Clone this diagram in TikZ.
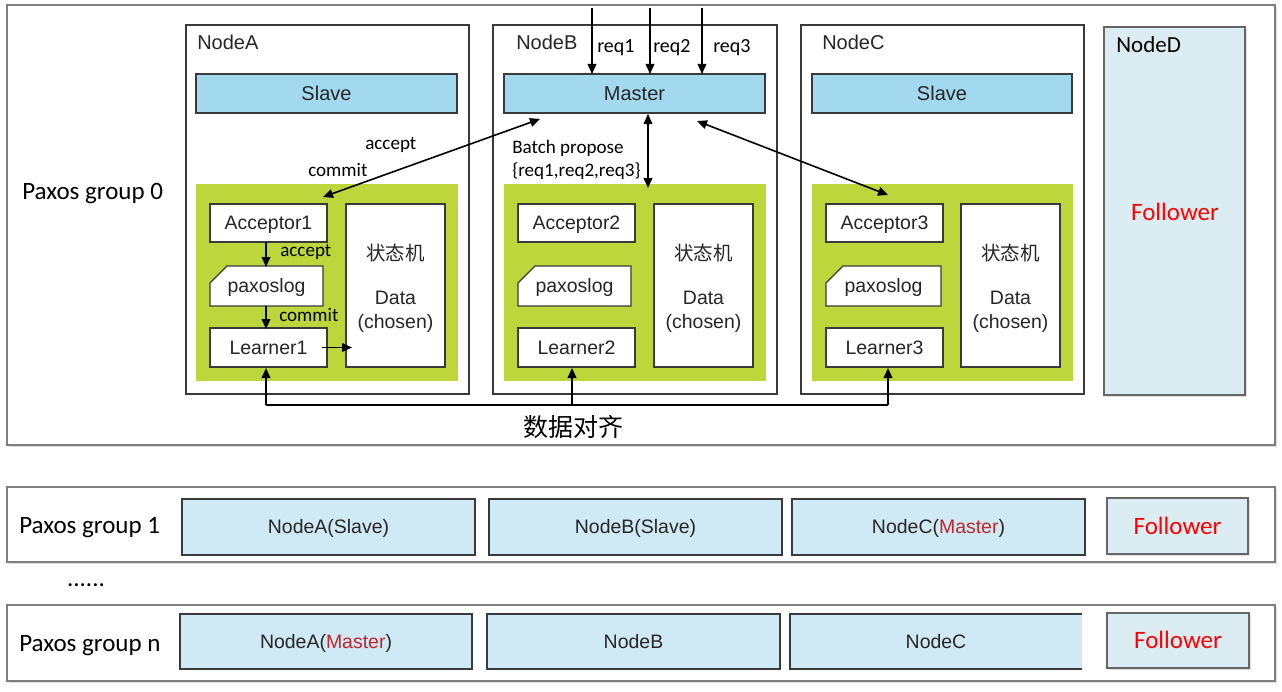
\documentclass[tikz,border=0pt]{standalone}
\usepackage{fontspec}
\setmainfont{Liberation Sans}
\newfontfamily\calib{Carlito}
\newfontfamily\cjk{Noto Sans CJK SC}
\usetikzlibrary{arrows.meta,shadows,calc}
\definecolor{grpline}{HTML}{7F7F7F}
\definecolor{boxline}{HTML}{3A3A3A}
\definecolor{barblue}{HTML}{A3D9EF}
\definecolor{lightblue}{HTML}{CFE9F5}
\definecolor{follblue}{HTML}{DBEDF3}
\definecolor{pgreen}{HTML}{BDD63B}
\definecolor{txt}{HTML}{262626}
\definecolor{mred}{HTML}{C0272D}
\definecolor{fred}{HTML}{FF0000}
\newcommand\pxbox[7]{\node[#1, inner sep=0pt, outer sep=0pt, minimum width={0.75pt*(#5-#3)}, minimum height={0.75pt*(#6-#4)}] (#2) at ({(#3+#5)/2},{(#4+#6)/2}) {#7};}
\newcommand\plog[4]{\draw[boxline, line width=1pt, fill=white] (#1,{#2+17}) -- ({#1+17},#2) -- (#3,#2) -- (#3,#4) -- (#1,#4) -- cycle;}
\begin{document}
\begin{tikzpicture}[x=0.75pt,y=-0.75pt,
  grp/.style={draw=grpline, line width=1.6pt, fill=white, drop shadow={shadow xshift=1.2pt, shadow yshift=-1.2pt, opacity=0.25}},
  nodebox/.style={draw=boxline, line width=0.9pt, fill=white},
  captxt/.style={text height=10.45pt, text depth=0pt},
  bar/.style={draw=boxline, line width=0.9pt, fill=barblue, text=txt, text height=10.74pt, text depth=0pt, font=\fontsize{15}{18}\selectfont},
  green/.style={fill=pgreen},
  wbox/.style={draw=boxline, line width=1pt, fill=white, text=txt, captxt, font=\fontsize{14.6}{18}\selectfont},
  ptxt/.style={text=txt, captxt, font=\fontsize{14.6}{18}\selectfont},
  databox/.style={draw=boxline, line width=1pt, fill=white},
  datatxt/.style={text=txt, align=center, font=\fontsize{14.6}{18}\selectfont, inner sep=0pt},
  nlabel/.style={anchor=base west, text=txt, font=\fontsize{15}{18}\selectfont, inner sep=0pt},
  clabel/.style={anchor=base west, text=black, font=\calib\fontsize{14.3}{17}\selectfont, inner sep=0pt},
  glabel/.style={anchor=base west, text=black, font=\calib\fontsize{18.75}{22}\selectfont, inner sep=0pt},
  dnode/.style={draw=grpline!80!black, line width=1pt, fill=follblue, drop shadow={shadow xshift=1.2pt, shadow yshift=-1.2pt, opacity=0.25}},
  nbox/.style={draw=boxline, line width=1pt, fill=lightblue, text=txt, captxt, font=\fontsize{14.6}{18}\selectfont},
  nfill/.style={fill=lightblue, text=txt, captxt, font=\fontsize{14.6}{18}\selectfont},
  fbox/.style={draw=grpline!80!black, line width=1pt, fill=follblue, text=fred, text height=12.08pt, text depth=0pt, font=\calib\fontsize{18.75}{22}\selectfont, drop shadow={shadow xshift=1.2pt, shadow yshift=-1.2pt, opacity=0.25}},
  tip/.tip={Triangle[length=7.5pt,width=6.5pt]},
  arr/.style={-tip, line width=1.2pt, black},
  darr/.style={tip-tip, line width=1.2pt, black},
  plainline/.style={line width=1.2pt, black}
]
\useasboundingbox (0,0) rectangle (1282,692);

% ---------- Paxos group 0 ----------
\pxbox{grp}{G0}{7}{5}{1275}{445}{}
\node[glabel] (g0lab) at (22,199) {Paxos group 0};

% Node boxes
\pxbox{nodebox}{NA}{186}{25}{469}{394}{}
\pxbox{nodebox}{NB}{493}{25}{777}{394}{}
\pxbox{nodebox}{NC}{801}{25}{1084}{394}{}
\pxbox{dnode}{ND}{1104}{27}{1245}{395}{}
\node[nlabel] (labA) at (197,49.5) {NodeA};
\node[nlabel] (labB) at (516,49.5) {NodeB};
\node[nlabel] (labC) at (822,49.5) {NodeC};
\node[anchor=base west, inner sep=0pt, font=\calib\fontsize{17.25}{20}\selectfont] (labD) at (1116,53) {NodeD};
\node[anchor=base, inner sep=0pt, text=fred, font=\calib\fontsize{18.75}{22}\selectfont] (follD) at (1175,220) {Follower};

% Role bars
\pxbox{bar}{SlaveA}{196}{74}{457}{113}{Slave}
\pxbox{bar}{Master}{504}{74}{765}{113}{Master}
\pxbox{bar}{SlaveC}{812}{74}{1072}{113}{Slave}

% Green paxos areas
\pxbox{green}{gA}{196}{184}{458}{381}{}
\pxbox{green}{gB}{504}{184}{766}{381}{}
\pxbox{green}{gC}{812}{184}{1073}{381}{}

% Node A internals
\pxbox{wbox}{Acc1}{210}{204}{327}{242}{Acceptor1}
\plog{210}{266}{323}{306}
\pxbox{ptxt}{pA}{210}{266}{323}{306}{paxoslog}
\pxbox{wbox}{Lrn1}{210}{328}{327}{367}{Learner1}
\pxbox{databox}{DataA}{346}{204}{445}{367}{}
\node[datatxt] (DataAt) at ($(DataA.center)+(0,3)$) {{\cjk 状态机}\\[15pt]Data\\(chosen)};

% Node B internals
\pxbox{wbox}{Acc2}{518}{204}{635}{242}{Acceptor2}
\plog{518}{266}{631}{306}
\pxbox{ptxt}{pB}{518}{266}{631}{306}{paxoslog}
\pxbox{wbox}{Lrn2}{518}{328}{635}{367}{Learner2}
\pxbox{databox}{DataB}{654}{204}{753}{367}{}
\node[datatxt] (DataBt) at ($(DataB.center)+(0,3)$) {{\cjk 状态机}\\[15pt]Data\\(chosen)};

% Node C internals
\pxbox{wbox}{Acc3}{826}{204}{943}{242}{Acceptor3}
\plog{826}{266}{941}{306}
\pxbox{ptxt}{pC}{826}{266}{941}{306}{paxoslog}
\pxbox{wbox}{Lrn3}{826}{328}{943}{367}{Learner3}
\pxbox{databox}{DataC}{961}{204}{1060}{367}{}
\node[datatxt] (DataCt) at ($(DataC.center)+(0,3)$) {{\cjk 状态机}\\[15pt]Data\\(chosen)};

% Requests
\coordinate (q1) at (592,8);
\coordinate (q2) at (650,8);
\coordinate (q3) at (702,8);
\draw[arr] (q1) -- (q1 |- Master.north);
\draw[arr] (q2) -- (q2 |- Master.north);
\draw[arr] (q3) -- (q3 |- Master.north);
\node[clabel, font=\calib\fontsize{15}{18}\selectfont] (lq1) at (597,53) {req1};
\node[clabel, font=\calib\fontsize{15}{18}\selectfont] (lq2) at (653,53) {req2};
\node[clabel, font=\calib\fontsize{15}{18}\selectfont] (lq3) at (713,53) {req3};

% Master <-> acceptors
\draw[darr] ($(Master.south west)+(36,6)$) -- ($(Acc1.north east)+(-4,-7)$);
\draw[darr] ($(Master.south west)+(144,1)$) -- ($(gB.north west)+(144,4)$);
\draw[darr] ($(Master.south west)+(193,8)$) -- ($(Acc3.north west)+(62,-9)$);
\node[clabel] (lacc) at (365,149) {accept};
\node[clabel] (lcom) at (308,176) {commit};
\node[clabel] (lbatch) at (512,153) {Batch propose};
\node[clabel] (lset) at (512,176) {\{req1,req2,req3\}};

% Internal flow in node A
\draw[arr] ($(Acc1.south west)+(56,0)$) -- ($(pA.north west)+(56,1)$);
\draw[arr] ($(pA.south west)+(56,0)$) -- ($(Lrn1.north west)+(56,1)$);
\draw[arr] ($(Lrn1.east)+(-5,0)$) -- ($(DataA.west |- Lrn1.east)+(6,0)$);
\node[clabel] (lacc2) at (280,256) {accept};
\node[clabel] (lcom2) at (279,321) {commit};

% Data alignment
\coordinate (al1) at (266,405);
\coordinate (al2) at (572,405);
\coordinate (al3) at (888,405);
\draw[plainline] (al1) -- (al3);
\draw[arr] (al1) -- ($(al1 |- Lrn1.south)+(0,1)$);
\draw[arr] (al2) -- ($(al2 |- Lrn2.south)+(0,1)$);
\draw[arr] (al3) -- ($(al3 |- Lrn3.south)+(0,1)$);
\node[font=\cjk\fontsize{18.75}{22}\selectfont] (align) at (573,427) {数据对齐};

% ---------- Paxos group 1 ----------
\pxbox{grp}{G1}{7}{487}{1275}{562}{}
\node[glabel] (g1lab) at (19,533) {Paxos group 1};
\pxbox{nbox}{g1a}{182}{499}{475}{555}{NodeA(Slave)}
\pxbox{nbox}{g1b}{489}{499}{782}{555}{NodeB(Slave)}
\pxbox{nbox}{g1c}{792}{499}{1085}{555}{NodeC(\textcolor{mred}{Master})}
\pxbox{fbox}{g1f}{1107}{498}{1248}{554}{Follower}

\node[anchor=base, font=\calib\fontsize{18.75}{22}\selectfont] (dots) at (86,586) {......};

% ---------- Paxos group n ----------
\pxbox{grp}{Gn}{7}{605}{1275}{681}{}
\node[glabel] (gnlab) at (19,651) {Paxos group n};
\pxbox{nbox}{gna}{180}{614}{472}{669}{NodeA(\textcolor{mred}{Master})}
\pxbox{nbox}{gnb}{487}{614}{780}{669}{NodeB}
\pxbox{nfill}{gnc}{790}{614}{1082}{669}{NodeC}
\draw[boxline, line width=1pt] (gnc.north east) -- (gnc.north west) -- (gnc.south west) -- (gnc.south east);
\pxbox{fbox}{gnf}{1107}{613}{1249}{668}{Follower}
\end{tikzpicture}
\end{document}
